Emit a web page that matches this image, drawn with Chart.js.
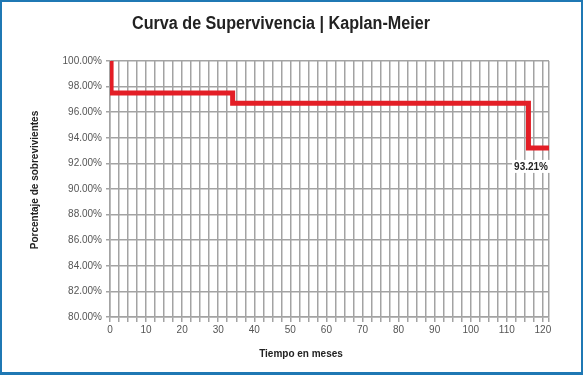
<!DOCTYPE html>
<html>
<head>
<meta charset="utf-8">
<script src="https://cdn.jsdelivr.net/npm/chart.js@4"></script>
<style>
  html, body { margin: 0; padding: 0; background: #fff; }
  #wrap { position: relative; width: 583px; height: 375px; }
  #frame { position: absolute; left: 0; top: 0; width: 579px; height: 370px;
           border: 2px solid #1f78b4; border-bottom-width: 3px; pointer-events: none; }
</style>
</head>
<body>
<div id="wrap">
  <canvas id="myChart" width="583" height="375"></canvas>
  <div id="frame"></div>
</div>
<script>
// datos de la curva (meses, porcentaje)
const meses = [0, 0.3, 34, 116, 121.7];
const supervivencia = [100, 97.5, 96.7, 93.21, 93.21];
const xTicks = [0, 10, 20, 30, 40, 50, 60, 70, 80, 90, 100, 110, 120];
const titulo = 'Curva de Supervivencia | Kaplan-Meier';
const tituloX = 'Tiempo en meses';
const tituloY = 'Porcentaje de sobrevivientes';
const etiquetaFinal = '93.21%';

const FONT = '"Liberation Sans", Arial, sans-serif';

// titulos y etiqueta dibujados a mano para colocarlos como en el original
const textos = {
  id: 'textos',
  afterDraw(chart) {
    const ctx = chart.ctx;
    const xs = chart.scales.x, ys = chart.scales.y;
    ctx.save();
    ctx.fillStyle = '#222';
    ctx.textAlign = 'center';
    ctx.textBaseline = 'middle';
    // el titulo original es algo mas estrecho
    ctx.font = 'bold 18px ' + FONT;
    const tw = ctx.measureText(titulo).width;
    ctx.save();
    ctx.translate(281, 24);
    ctx.scale(298 / tw, 1);
    ctx.fillText(titulo, 0, 0);
    ctx.restore();
    ctx.font = 'bold 10px ' + FONT;
    ctx.fillText(tituloX, 301, 354);
    ctx.translate(35, 180);
    ctx.rotate(-Math.PI / 2);
    ctx.fillText(tituloY, 0, 0);
    ctx.restore();

    // etiqueta del ultimo punto
    const n = meses.length - 1;
    const px = xs.getPixelForValue(meses[n]);
    const py = ys.getPixelForValue(supervivencia[n]);
    ctx.save();
    ctx.font = 'bold 10px ' + FONT;
    const w = ctx.measureText(etiquetaFinal).width;
    ctx.fillStyle = '#fff';
    ctx.fillRect(px - w - 3, py + 12, w + 4, 13);
    ctx.fillStyle = '#222';
    ctx.textAlign = 'right';
    ctx.textBaseline = 'middle';
    ctx.fillText(etiquetaFinal, px - 1, py + 19);
    ctx.restore();
  }
};

const ctx = document.getElementById('myChart').getContext('2d');
new Chart(ctx, {
  type: 'line',
  data: {
    datasets: [{
      data: meses.map((m, i) => ({ x: m, y: supervivencia[i] })),
      borderColor: '#e31e26',
      borderWidth: 5,
      stepped: true,
      pointRadius: 0,
      fill: false
    }]
  },
  options: {
    responsive: false,
    animation: false,
    layout: { padding: { left: 0, right: 34, top: 61, bottom: 0 } },
    plugins: { legend: { display: false }, tooltip: { enabled: false } },
    scales: {
      x: {
        type: 'linear',
        min: 0,
        max: 121.7,
        afterFit(s) { s.height = 58; },
        afterBuildTicks(s) {
          const t = [];
          for (let v = 0; v <= 120; v += 2.5) t.push({ value: v });
          t.push({ value: 121.7 });
          s.ticks = t;
        },
        grid: { color: '#a3a3a3', lineWidth: 1.5, tickLength: 5, drawTicks: true },
        border: { color: '#a3a3a3', width: 1.5 },
        ticks: {
          autoSkip: false,
          maxRotation: 0,
          padding: 2,
          color: '#555',
          font: { family: FONT, size: 10 },
          callback: v => xTicks.includes(v) ? String(v) : ''
        }
      },
      y: {
        min: 80,
        max: 100,
        afterFit(s) { s.width = 110; },
        grid: { color: '#a3a3a3', lineWidth: 1.5, tickLength: 4 },
        border: { color: '#a3a3a3', width: 1.5 },
        ticks: {
          stepSize: 2,
          padding: 4,
          color: '#555',
          font: { family: FONT, size: 10 },
          callback: v => v.toFixed(2) + '%'
        }
      }
    }
  },
  plugins: [textos]
});
</script>
</body>
</html>
